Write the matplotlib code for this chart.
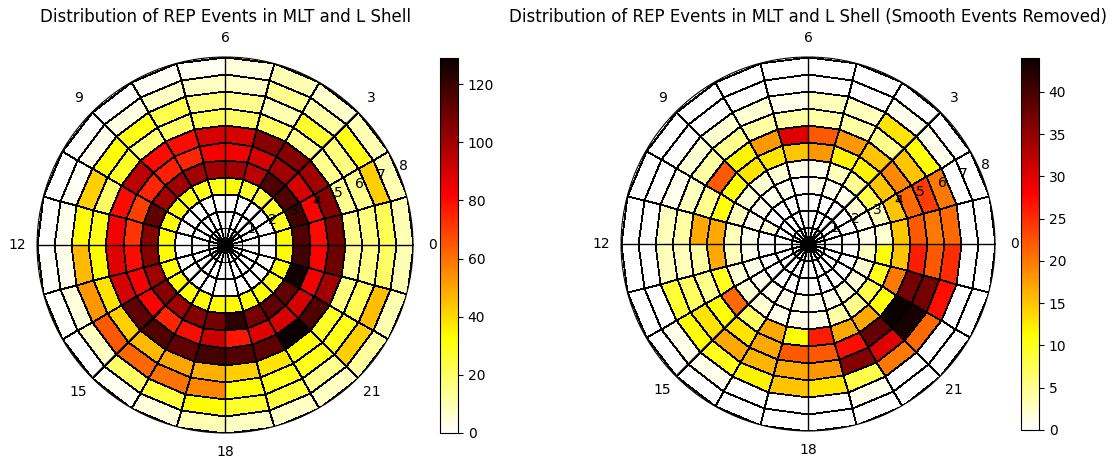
import matplotlib.pyplot as plt
import numpy as np

# bin edges: 24 one-hour MLT bins, 11 L-shell bins from 0 to 8
mlt_edges = np.arange(0, 25)
l_edges = np.linspace(0, 8, 12)

mlt_labels = ['0', '3', '6', '9', '12', '15', '18', '21']
l_ticks = [1, 2, 3, 4, 5, 6, 7, 8]

# event counts, one row per MLT hour, one value per L bin (inner -> outer)
all_events = [
    [0, 0, 0, 33, 115, 80, 108, 15, 17, 22, 10],
    [0, 0, 0, 28, 118, 82, 105, 15, 15, 42, 10],
    [0, 0, 0, 28, 115, 90, 100, 15, 17, 30, 10],
    [0, 0, 0, 25, 115, 100, 105, 15, 27, 12, 7],
    [0, 0, 0, 27, 95, 90, 105, 20, 10, 15, 10],
    [0, 0, 0, 33, 100, 84, 90, 20, 15, 8, 5],
    [0, 0, 0, 30, 100, 84, 90, 22, 17, 8, 2],
    [0, 0, 0, 30, 100, 75, 80, 20, 23, 8, 2],
    [0, 0, 0, 33, 100, 76, 80, 18, 30, 4, 0],
    [0, 0, 0, 33, 100, 75, 95, 28, 33, 3, 0],
    [0, 0, 0, 33, 112, 70, 80, 20, 42, 2, 0],
    [0, 0, 0, 33, 105, 72, 84, 30, 33, 3, 0],
    [0, 0, 0, 33, 105, 80, 88, 33, 46, 3, 1],
    [0, 0, 0, 33, 100, 83, 90, 38, 53, 5, 1],
    [0, 0, 0, 33, 105, 82, 112, 42, 65, 8, 0],
    [0, 0, 0, 33, 100, 75, 115, 46, 62, 20, 2],
    [0, 0, 0, 33, 105, 80, 112, 50, 60, 25, 5],
    [0, 0, 0, 33, 108, 92, 118, 48, 56, 33, 10],
    [0, 0, 0, 33, 122, 78, 115, 42, 33, 27, 8],
    [0, 0, 0, 33, 108, 88, 113, 38, 30, 25, 8],
    [0, 0, 0, 33, 112, 90, 129, 33, 30, 15, 8],
    [0, 0, 0, 30, 112, 90, 115, 28, 30, 42, 13],
    [0, 0, 0, 33, 127, 84, 100, 17, 22, 45, 10],
    [0, 0, 0, 33, 118, 82, 110, 14, 16, 20, 10],
]

smooth_removed = [
    [0, 0, 0, 1, 2, 15, 22, 20, 21, 0, 0],
    [0, 0, 0, 1, 3, 15, 21, 24, 20, 0, 0],
    [0, 0, 0, 2, 8, 15, 19, 15, 11, 1, 0],
    [0, 0, 0, 1, 5, 12, 15, 5, 13, 1, 0],
    [0, 0, 0, 1, 3, 12, 18, 4, 3, 0, 0],
    [0, 0, 0, 1, 1, 18, 22, 4, 3, 0, 0],
    [0, 0, 0, 0, 1, 15, 30, 4, 1, 0, 0],
    [0, 0, 0, 1, 2, 13, 18, 4, 2, 0, 0],
    [0, 0, 0, 1, 2, 13, 12, 5, 2, 0, 0],
    [0, 0, 0, 1, 2, 11, 22, 4, 2, 0, 0],
    [0, 0, 2, 1, 3, 11, 5, 3, 1, 0, 0],
    [0, 0, 0, 1, 3, 17, 17, 4, 3, 0, 0],
    [0, 0, 0, 1, 3, 17, 4, 3, 3, 0, 0],
    [0, 0, 0, 1, 2, 10, 5, 7, 9, 0, 0],
    [0, 0, 0, 1, 2, 21, 11, 13, 11, 1, 0],
    [0, 0, 0, 1, 2, 7, 13, 17, 10, 1, 0],
    [0, 0, 0, 1, 1, 17, 17, 16, 12, 0, 0],
    [0, 0, 0, 1, 1, 11, 22, 17, 15, 0, 0],
    [0, 0, 0, 1, 1, 26, 22, 18, 13, 0, 0],
    [0, 0, 0, 1, 4, 17, 27, 36, 8, 1, 0],
    [0, 0, 0, 2, 5, 17, 38, 30, 20, 0, 0],
    [0, 0, 0, 2, 8, 11, 44, 43, 21, 0, 0],
    [0, 0, 0, 2, 10, 20, 37, 37, 27, 0, 0],
    [0, 0, 0, 3, 11, 15, 26, 22, 25, 0, 0],
]

titles = ['Distribution of REP Events in MLT and L Shell',
          'Distribution of REP Events in MLT and L Shell (Smooth Events Removed)']

theta, r = np.meshgrid(mlt_edges * 2 * np.pi / 24, l_edges)

fig = plt.figure(figsize=(11.16, 4.63), dpi=100)

# [polar axes rect, colorbar rect] in figure fractions
rects = [([0.0332, 0.0648, 0.3369, 0.8121], [0.3943, 0.0648, 0.0161, 0.8099]),
         ([0.5565, 0.0691, 0.3351, 0.8078], [0.9149, 0.0713, 0.0161, 0.8035])]

for data, title, (ax_rect, cb_rect) in zip([all_events, smooth_removed], titles, rects):
    ax = fig.add_axes(ax_rect, projection='polar')
    counts = np.array(data).T
    pc = ax.pcolormesh(theta, r, counts, cmap='hot_r', edgecolors='k', linewidth=0.6)
    ax.set_ylim(0, 8)
    ax.set_yticks(l_ticks)
    ax.set_xticks(np.deg2rad(np.arange(0, 360, 45)))
    ax.set_xticklabels(mlt_labels)
    ax.yaxis.grid(False)
    ax.xaxis.grid(True, color='k', linewidth=1.0)
    ax.set_title(title)
    cax = fig.add_axes(cb_rect)
    fig.colorbar(pc, cax=cax)

plt.savefig('out.png', dpi=100)
